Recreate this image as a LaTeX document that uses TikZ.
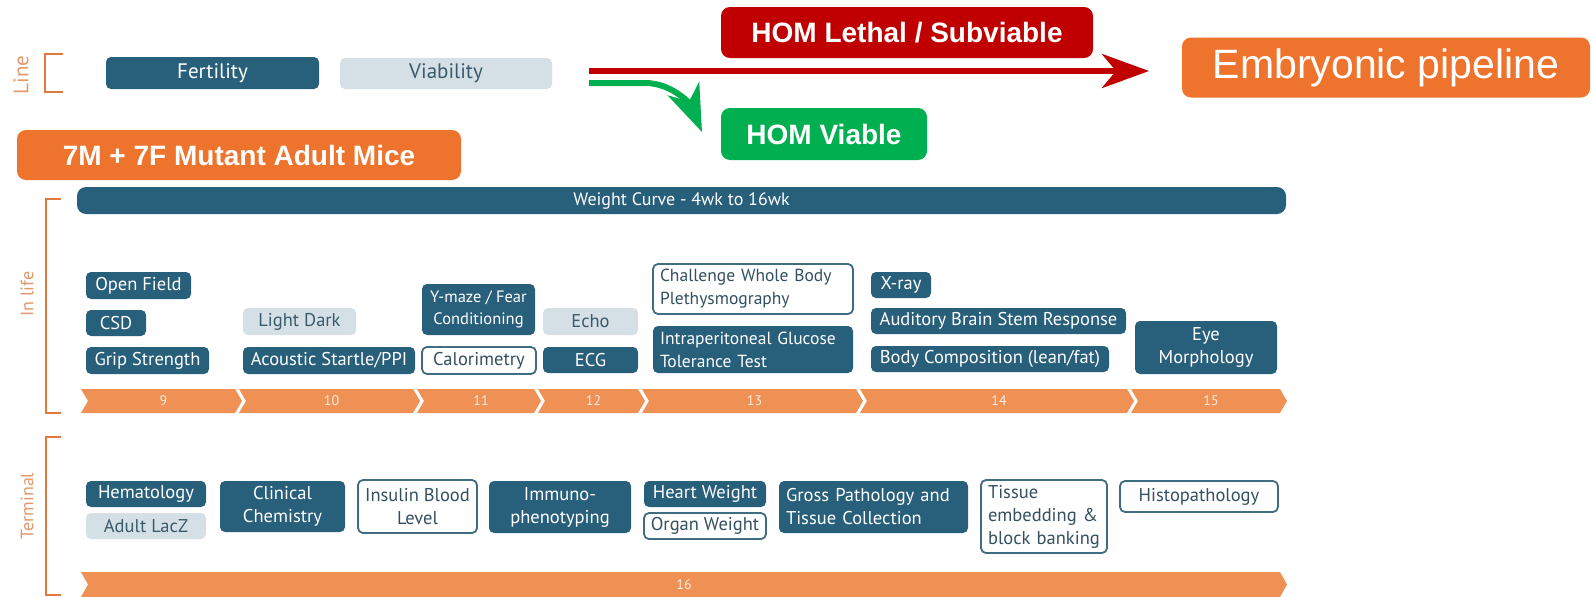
\documentclass[tikz,border=0pt]{standalone}
\usepackage{fontspec}
\setmainfont{Liberation Sans}
\newfontfamily\pts{PT Sans}
\newfontfamily\ars{Liberation Sans}
\usetikzlibrary{arrows.meta}
\definecolor{dk}{HTML}{285F7A}
\definecolor{lt}{HTML}{D4DFE6}
\definecolor{ltt}{HTML}{3B5B6B}
\definecolor{olb}{HTML}{3F6E82}
\definecolor{olt}{HTML}{34505F}
\definecolor{org}{HTML}{EE742D}
\definecolor{tlc}{HTML}{EF9055}
\definecolor{brk}{HTML}{E07A3A}
\definecolor{sidet}{HTML}{E3976A}
\definecolor{hred}{HTML}{C00000}
\definecolor{hgrn}{HTML}{00B050}
\hyphenpenalty=10000
\exhyphenpenalty=10000
\newcommand\tlchev[4]{%
  \fill[tlc] (#1,389) -- (#2-7,389) -- (#2,401) -- (#2-7,413) -- (#1,413) -- (#1+7,401) -- cycle;
  \node[tlnum] (#4) at ({(#1+#2)/2+2},401) {#3};
}
\tikzset{
  base/.style={rounded corners=5pt, inner sep=0pt, align=center, font=\pts\fontsize{18.5}{23}\selectfont},
  dk/.style={base, fill=dk, text=white},
  lt/.style={base, fill=lt, text=ltt},
  ol/.style={base, fill=white, draw=olb, line width=1.8pt, text=olt},
  big/.style={rounded corners=9pt, inner sep=0pt, text=white, font=\ars\bfseries\fontsize{28}{32}\selectfont},
  tlnum/.style={inner sep=0pt, text=white!82!tlc, font=\pts\fontsize{14}{16}\selectfont},
  sidelab/.style={inner sep=0pt, rotate=90, text=sidet, font=\pts\fontsize{18}{20}\selectfont},
  brack/.style={draw=brk, line width=2.6pt},
  harrow/.style={line width=6pt, -{Stealth[length=47pt,width=34pt,inset=14pt]}},
}
\begin{document}
\begin{tikzpicture}[x=1pt,y=-1pt]
\fill[white] (0,0) rectangle (1591,597);
\useasboundingbox (0,0) rectangle (1591,597);

% ---- Line row
\node[sidelab, font=\pts\fontsize{21}{22}\selectfont] (linelab) at (21,75) {Line};
\draw[brack] (63,54) -- (45,54) -- (45,92) -- (63,92);
\node[dk, minimum width=213pt, minimum height=32pt, font=\pts\fontsize{21}{24}\selectfont] (fert) at (212.5,73) {Fertility};
\node[lt, minimum width=212pt, minimum height=31pt, font=\pts\fontsize{21}{24}\selectfont] (viab) at (446,73.5) {Viability};

% ---- top labels and arrows
\node[big, fill=hred, minimum width=372pt, minimum height=51pt] (leth) at (907,32.5) {HOM Lethal / Subviable};
\node[big, fill=hgrn, minimum width=206pt, minimum height=52pt] (viable) at (824,134) {HOM Viable};
\node[rounded corners=9pt, inner sep=0pt, fill=org, text=white, font=\ars\fontsize{41}{46}\selectfont, minimum width=408pt, minimum height=60pt] (emb) at (1386,67.5) {Embryonic pipeline};
\node[big, fill=org, minimum width=444pt, minimum height=50pt] (mice) at (239,155) {7M + 7F Mutant Adult Mice};

\coordinate (rsrc) at (589,71);
\coordinate (rend) at (1149,71);
\coordinate (gsrc) at (589,83);
\coordinate (gend) at (702,132);
\draw[harrow, hred] (rsrc) -- (rend);
\draw[harrow, hgrn] (gsrc) -- (645,83) .. controls (672,83) and (690,104) .. (gend);

% ---- In life
\node[sidelab] (inlife) at (27,294) {In life};
\draw[brack] (61,199) -- (46,199) -- (46,413) -- (61,413);
\node[dk, rounded corners=9pt, minimum width=1209pt, minimum height=27pt, font=\pts\fontsize{18}{20}\selectfont] (weight) at (681.5,200.5) {Weight Curve - 4wk to 16wk};

\node[dk, minimum width=105pt, minimum height=27pt] (openf) at (138.5,285.5) {Open Field};
\node[dk, minimum width=60pt, minimum height=26pt] (csd) at (116,323) {CSD};
\node[dk, minimum width=123pt, minimum height=27pt] (grip) at (147.5,360.5) {Grip Strength};
\node[lt, minimum width=113pt, minimum height=27pt] (lightd) at (299.5,321.5) {Light Dark};
\node[dk, minimum width=172pt, minimum height=27pt] (acou) at (329,360.5) {Acoustic Startle/PPI};
\node[dk, minimum width=113pt, minimum height=51pt, font=\pts\fontsize{16.5}{22}\selectfont] (ymaze) at (478.5,309.5) {Y-maze / Fear\\Conditioning};
\node[ol, minimum width=114pt, minimum height=27pt] (calor) at (479,360.5) {Calorimetry};
\node[lt, minimum width=95pt, minimum height=27pt] (echo) at (590.5,321.5) {Echo};
\node[dk, minimum width=95pt, minimum height=26pt] (ecg) at (590.5,360) {ECG};
\node[ol, minimum width=200pt, minimum height=50pt, text width=186pt, align=left, font=\pts\fontsize{17.5}{23}\selectfont] (chall) at (753,289) {Challenge Whole Body\\Plethysmography};
\node[dk, minimum width=200pt, minimum height=47pt, text width=186pt, align=left, font=\pts\fontsize{17.5}{23}\selectfont] (ipgtt) at (753,349.5) {Intraperitoneal Glucose\\Tolerance Test};
\node[dk, minimum width=60pt, minimum height=26pt] (xray) at (901,285) {X-ray};
\node[dk, minimum width=255pt, minimum height=26pt] (abr) at (998.5,321) {Auditory Brain Stem Response};
\node[dk, minimum width=238pt, minimum height=26pt] (bodyc) at (990,359) {Body Composition (lean/fat)};
\node[dk, minimum width=142pt, minimum height=53pt] (eye) at (1206,347.5) {Eye\\Morphology};

% timeline weeks 9-15
\tlchev{81}{242}{9}{w9}
\tlchev{239}{420}{10}{w10}
\tlchev{417}{541}{11}{w11}
\tlchev{538}{645}{12}{w12}
\tlchev{642}{863}{13}{w13}
\tlchev{860}{1134}{14}{w14}
\tlchev{1131}{1287}{15}{w15}

% ---- Terminal
\node[sidelab] (term) at (27,506) {Terminal};
\draw[brack] (61,437) -- (46,437) -- (46,595) -- (61,595);
\node[dk, minimum width=120pt, minimum height=26pt] (hema) at (146,494) {Hematology};
\node[lt, minimum width=120pt, minimum height=26pt] (lacz) at (146,526) {Adult LacZ};
\node[dk, minimum width=125pt, minimum height=51pt] (clin) at (282.5,506.5) {Clinical\\Chemistry};
\node[ol, minimum width=119pt, minimum height=53pt] (insu) at (417.5,506.5) {Insulin Blood\\Level};
\node[dk, minimum width=142pt, minimum height=52pt] (immu) at (560,507) {Immuno-\\phenotyping};
\node[dk, minimum width=122pt, minimum height=26pt] (heart) at (705,494) {Heart Weight};
\node[ol, minimum width=122pt, minimum height=26pt] (organ) at (705,526) {Organ Weight};
\node[dk, minimum width=189pt, minimum height=52pt, text width=175pt, align=left] (gross) at (873.5,507) {Gross Pathology and\\Tissue Collection};
\node[ol, minimum width=126pt, minimum height=73pt, text width=112pt, align=left] (tiss) at (1044,516.5) {Tissue\\embedding \&\\block banking};
\node[ol, minimum width=158pt, minimum height=31pt] (histo) at (1199,496.5) {Histopathology};

% week 16 bar
\fill[tlc] (81,572) -- (1280,572) -- (1287,584.5) -- (1280,597) -- (81,597) -- (88,584.5) -- cycle;
\node[tlnum] (w16) at (684,585) {16};
\end{tikzpicture}
\end{document}
